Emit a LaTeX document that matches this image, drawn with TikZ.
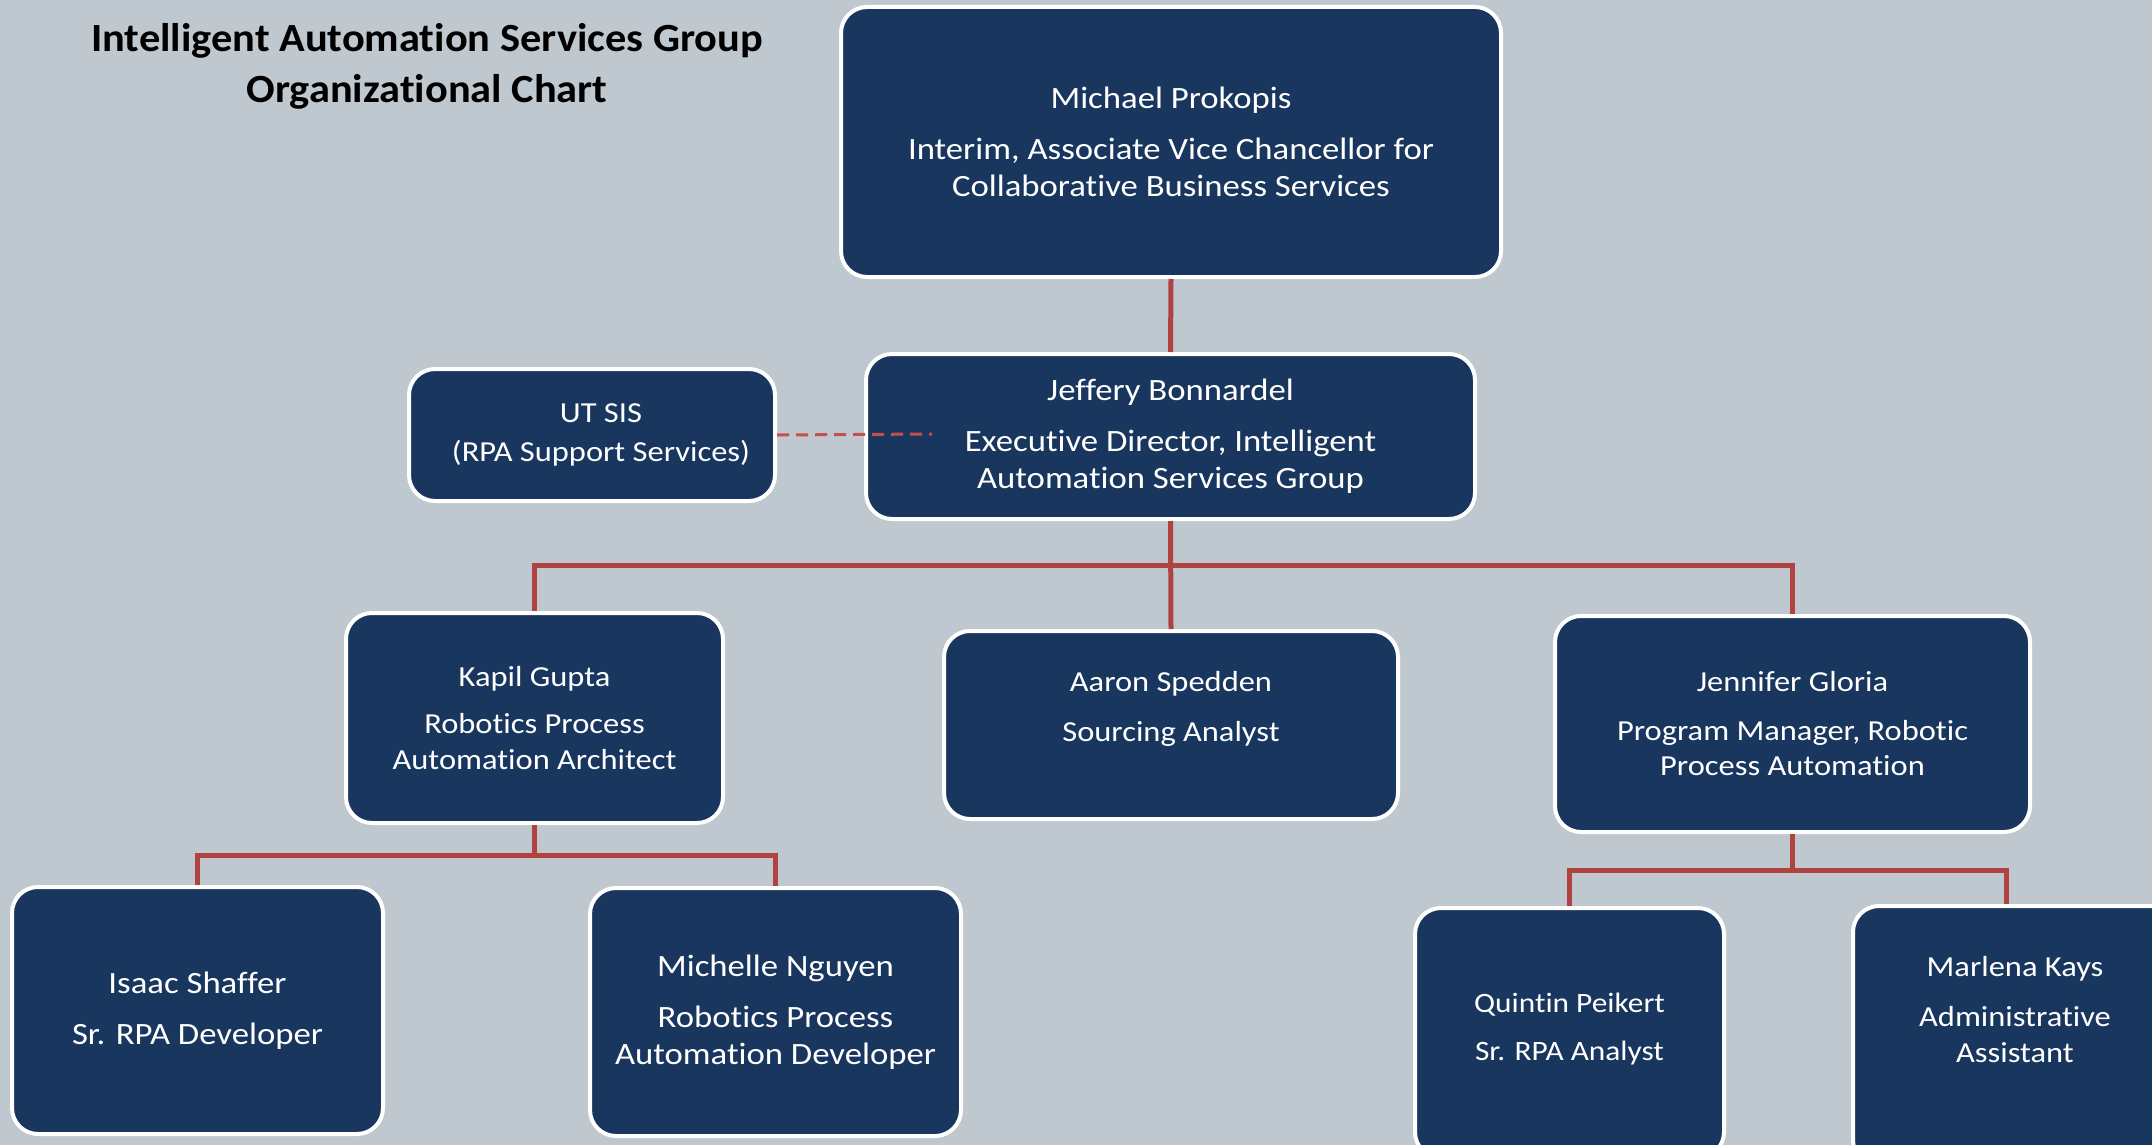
\documentclass[tikz,border=0pt]{standalone}
\usepackage{fontspec}
\setmainfont{Carlito}[Ligatures=NoCommon]
\newfontfamily\boxfont{Carlito}[FakeStretch=1.12, Ligatures=NoCommon]
\newfontfamily\titlefont{Carlito}[FakeStretch=1.06, Ligatures=NoCommon]
\definecolor{bg}{RGB}{191,199,207}
\definecolor{navy}{RGB}{25,54,94}
\definecolor{linkred}{RGB}{176,66,64}
\definecolor{dashred}{RGB}{196,80,77}
\begin{document}
\begin{tikzpicture}[x=1pt,y=-1pt,
  box/.style={draw=white, line width=4pt, fill=navy, rounded corners=26pt,
    text=white, align=center, inner sep=0pt,
    font=\boxfont\fontsize{31}{37}\selectfont},
  small/.style={font=\boxfont\fontsize{29}{35.5}\selectfont},
  link/.style={draw=linkred, line width=5pt},
  dashlink/.style={draw=dashred, line width=3pt, dash pattern=on 12pt off 7pt}
]
% canvas
\fill[bg] (0,0) rectangle (2152,1145);
\useasboundingbox (0,0) rectangle (2152,1145);

% title
\node[font=\titlefont\bfseries\fontsize{40}{51}\selectfont, align=center] (title) at (427,66)
  {Intelligent Automation Services Group\\Organizational Chart};

% boxes
\node[box, minimum width=660pt, minimum height=270pt] (top) at (1171,142)
  {Michael Prokopis\\[14pt]Interim, Associate Vice Chancellor for\\Collaborative Business Services};
\node[box, minimum width=609pt, minimum height=165pt] (jeff) at (1170.5,436.5)
  {Jeffery Bonnardel\\[14pt]Executive Director, Intelligent\\Automation Services Group};
\node[box, small, minimum width=366pt, minimum height=132pt] (utsis) at (592,435)
  {\hspace*{18pt}UT SIS\\[3pt]\hspace*{18pt}(RPA Support Services)};
\node[box, small, minimum width=377pt, minimum height=210pt] (kapil) at (534.5,718)
  {Kapil Gupta\\[12pt]Robotics Process\\Automation Architect};
\node[box, small, minimum width=454pt, minimum height=188pt, text depth=37pt] (aaron) at (1171,725)
  {Aaron Spedden\\[14pt]Sourcing Analyst};
\node[box, small, minimum width=475pt, minimum height=216pt] (jen) at (1792.5,724)
  {Jennifer Gloria\\[13pt]Program Manager, Robotic\\Process Automation};
\node[box, minimum width=371pt, minimum height=247pt] (isaac) at (197.5,1010.5)
  {Isaac Shaffer\\[14pt]Sr. RPA Developer};
\node[box, minimum width=371pt, minimum height=248pt] (michelle) at (775.5,1012)
  {Michelle Nguyen\\[14pt]Robotics Process\\Automation Developer};
\node[box, minimum width=309pt, minimum height=250pt, text depth=12pt,
  font=\boxfont\fontsize{28}{36}\selectfont] (quintin) at (1569.5,1033)
  {Quintin Peikert\\[12pt]Sr. RPA Analyst};
\node[box, small, minimum width=324pt, minimum height=260pt, text depth=54pt] (marlena) at (2015,1036)
  {Marlena Kays\\[15pt]Administrative\\Assistant};

% reporting lines
\coordinate (bus) at (1171,565);
\coordinate (kbus) at (534.5,855);
\coordinate (jbus) at (1792.5,870);
\draw[link] (top.south) -- (jeff.north);
\draw[link] (jeff.south) -- (aaron.north);
\draw[link] (kapil.north) -- (kapil.north |- bus) -- (jen.north |- bus) -- (jen.north);
\draw[link] (kapil.south) -- (kbus);
\draw[link] (isaac.north) -- (isaac.north |- kbus) -- (michelle.north |- kbus) -- (michelle.north);
\draw[link] (jen.south) -- (jbus);
\draw[link] (quintin.north) -- (quintin.north |- jbus)
  -- ([xshift=-9pt]marlena.north |- jbus) -- ([xshift=-9pt]marlena.north);

% dotted-line relationship
\coordinate (dashend) at (932,434);
\draw[dashlink] (utsis.east) -- (dashend);
\end{tikzpicture}
\end{document}
